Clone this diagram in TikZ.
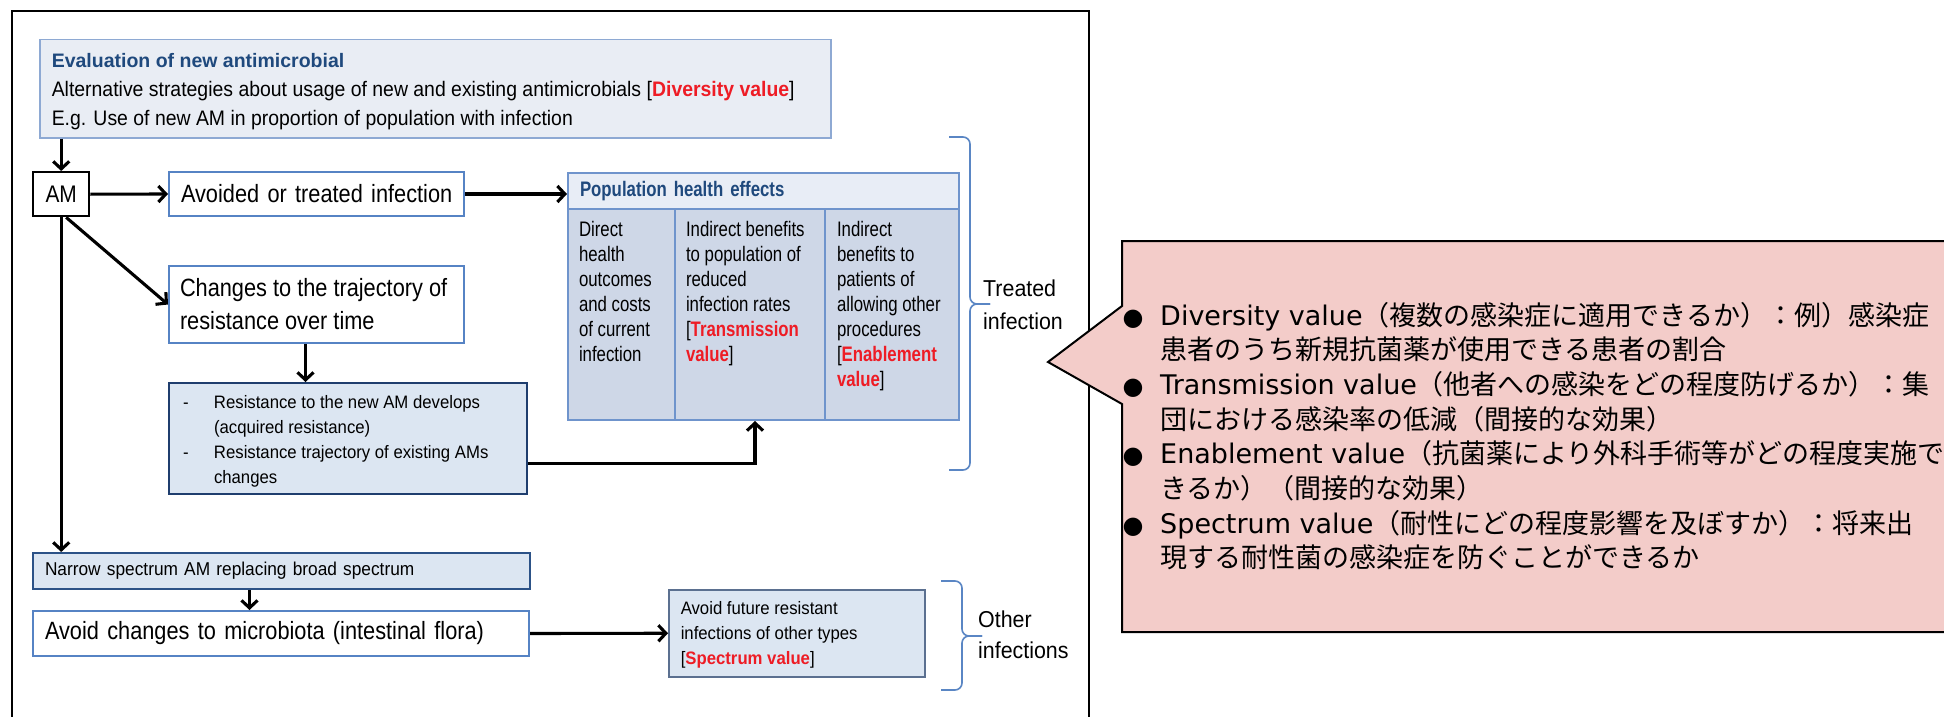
\documentclass[tikz,border=0pt]{standalone}
\usepackage{fontspec}
\setmainfont{Liberation Sans}
\newfontfamily\fA{Liberation Sans}[FakeStretch=0.87]
\newfontfamily\fB{Liberation Sans}[FakeStretch=0.80]
\newfontfamily\fC{Liberation Sans}[FakeStretch=0.93]
\newfontfamily\fD{Liberation Sans}[FakeStretch=0.925]
\newfontfamily\dv{DejaVu Sans}
\newfontfamily\jp{Noto Sans CJK JP}
\usetikzlibrary{arrows.meta}
\definecolor{evalfill}{HTML}{E9EDF4}
\definecolor{evalborder}{HTML}{8EA9D3}
\definecolor{boxblue}{HTML}{5683C4}
\definecolor{tblborder}{HTML}{6F94CC}
\definecolor{headfill}{HTML}{E8EDF6}
\definecolor{colfill}{HTML}{CED7E7}
\definecolor{resfill}{HTML}{DCE6F2}
\definecolor{resborder}{HTML}{1F3E6E}
\definecolor{narrowborder}{HTML}{2C5287}
\definecolor{futborder}{HTML}{5B7090}
\definecolor{calloutfill}{HTML}{F3CCC9}
\definecolor{hdblue}{HTML}{1F497D}
\definecolor{valred}{HTML}{EE1C25}
\definecolor{braceblue}{HTML}{5A86C4}
\newcommand\tbx[4]{\parbox[c][#1][t]{#2}{\raggedright\rule{0pt}{#3}#4}}
\newcommand\val[1]{{\bfseries\color{valred}#1}}
\tikzset{
  evalbox/.style={draw=evalborder, fill=evalfill, line width=1.5pt, anchor=north west,
    inner xsep=12pt, inner ysep=0pt, font=\fD\fontsize{21}{29}\selectfont},
  amnode/.style={draw=black, fill=white, line width=2.4pt, anchor=north west,
    minimum width=56pt, minimum height=44pt, inner sep=0pt, font=\fA\fontsize{24}{28}\selectfont},
  wbox/.style={draw=boxblue, fill=white, line width=2pt, anchor=north west,
    inner xsep=12pt, inner ysep=0pt, align=left, font=\fA\fontsize{25}{33}\selectfont},
  bbox/.style={fill=resfill, line width=2pt, anchor=north west,
    inner xsep=12pt, inner ysep=0pt, align=left, font=\fC\fontsize{18}{25}\selectfont},
  phead/.style={draw=tblborder, fill=headfill, line width=2pt, anchor=north west,
    minimum height=36pt, text width=367pt, inner xsep=12pt, inner ysep=0pt, align=left,
    text=hdblue, font=\fB\bfseries\fontsize{21}{25}\selectfont},
  pcol/.style={draw=tblborder, fill=colfill, line width=2pt, anchor=north west,
    inner ysep=0pt, font=\fB\fontsize{21}{25}\selectfont},
  lbl/.style={anchor=north west, inner sep=0pt, font=\fC\fontsize{23}{33}\selectfont},
  arr/.style={draw=black, line width=3.1pt, -{Straight Barb[length=7.5pt,width=16pt]}},
  brace/.style={draw=braceblue, line width=1.6pt, rounded corners=7pt},
  cl/.style={anchor=base west, inner sep=0pt, font=\fontsize{27}{34.7}\selectfont},
  bul/.style={anchor=base, inner sep=0pt, font=\dv\fontsize{24}{28}\selectfont}
}
\begin{document}
\begin{tikzpicture}[x=1pt,y=-1pt]
\useasboundingbox (0,0) rectangle (1944,717);
\clip (0,0) rectangle (1944,717);
\fill[white] (0,0) rectangle (1944,717);
% outer frame
\draw[line width=2pt] (12,740) -- (12,11) -- (1089,11) -- (1089,740);

% boxes
\node[evalbox] (eval) at (39,39) {\tbx{98pt}{767pt}{28pt}{{\rmfamily\fontsize{19.5}{29}\selectfont\bfseries\color{hdblue}Evaluation of new antimicrobial}\\\mbox{Alternative strategies about usage of new and existing antimicrobials [\val{Diversity value}]}\\\mbox{E.g. Use of new AM in proportion of population with infection}}};
\node[amnode] (am) at (32,171) {AM};
\node[wbox, minimum height=44pt, text width=271pt] (avoided) at (168,171) {\mbox{Avoided or treated infection}};
\node[wbox, inner xsep=11pt] (changes) at (168,265) {\tbx{77pt}{273pt}{30pt}{\mbox{Changes to the trajectory of}\\resistance over time}};
\node[bbox, draw=resborder, inner xsep=14pt] (res) at (168,382) {\tbx{111pt}{330pt}{25pt}{\makebox[31pt][l]{-}Resistance to the new AM develops\\\hspace*{31pt}(acquired resistance)\\\makebox[31pt][l]{-}Resistance trajectory of existing AMs\\\hspace*{31pt}changes}};
\node[bbox, draw=narrowborder, minimum height=36pt, text width=473pt, font=\fC\fontsize{18.6}{25}\selectfont] (narrow) at (32,552) {\mbox{Narrow spectrum AM replacing broad spectrum}};
\node[wbox, minimum height=45pt, text width=472pt] (micro) at (32,610) {\mbox{Avoid changes to microbiota (intestinal flora)}};

% population health table
\node[phead] (pophead) at (567,172) {Population health effects};
\node[pcol, inner xsep=11pt] (col1) at (567,208) {\tbx{211pt}{85pt}{27pt}{Direct\\health\\outcomes\\and costs\\of current\\infection}};
\node[pcol, inner xsep=11pt] (col2) at (674,208) {\tbx{211pt}{128pt}{27pt}{Indirect benefits\\to population of\\reduced\\infection rates\\{}[\val{Transmission}\\\val{value}]}};
\node[pcol, inner xsep=12pt] (col3) at (824,208) {\tbx{211pt}{110pt}{27pt}{Indirect\\benefits to\\patients of\\allowing other\\procedures\\{}[\val{Enablement}\\\val{value}]}};

\node[bbox, draw=futborder, line width=1.5pt] (fut) at (668,589) {\tbx{87pt}{232pt}{25pt}{Avoid future resistant\\infections of other types\\{}[\val{Spectrum value}]}};

% braces and labels
\draw[brace] (949,137) -- (970,137) -- (970,304) -- (990,304);
\draw[brace] (990,304) -- (970,304) -- (970,470) -- (949,470);
\node[lbl] (treated) at (983,271) {\tbx{66pt}{110pt}{25pt}{Treated\\infection}};
\draw[brace] (941,581) -- (962,581) -- (962,636) -- (982,636);
\draw[brace] (982,636) -- (962,636) -- (962,690) -- (941,690);
\node[lbl, font=\fC\fontsize{23}{31}\selectfont] (other) at (978,602) {\tbx{62pt}{110pt}{25pt}{Other\\infections}};

% connectors
\draw[arr] (eval.south -| am.north) -- (am.north);
\draw[arr] (am.east) -- (avoided.west);
\draw[arr] (avoided.east) -- (avoided.east -| pophead.west);
\draw[arr] ([xshift=5pt]am.south) -- (changes.west);
\draw[arr] (am.south) -- (am.south |- narrow.north);
\draw[arr] ([xshift=-11pt]changes.south) -- ([xshift=-11pt]changes.south |- res.north);
\draw[arr] ([yshift=-25pt]res.east) -| ([xshift=5pt]col2.south);
\draw[arr] ([xshift=-32pt]narrow.south) -- ([xshift=-32pt]narrow.south |- micro.north);
\draw[arr] (micro.east) -- (fut.west);

% callout
\draw[fill=calloutfill, line width=2pt] (1122,306) -- (1122,241) -- (1970,241) -- (1970,632) -- (1122,632) -- (1122,404) -- (1048,362) -- cycle;
\node[bul] (b1) at (1133,325) {●};
\node[cl] (t1) at (1160,325) {{\dv Diversity value}{\jp （複数の感染症に適用できるか）：例）感染症}};
\node[cl] (t2) at (1160,359.7) {\jp 患者のうち新規抗菌薬が使用できる患者の割合};
\node[bul] (b2) at (1133,394.4) {●};
\node[cl] (t3) at (1160,394.4) {{\dv Transmission value}{\jp （他者への感染をどの程度防げるか）：集}};
\node[cl] (t4) at (1160,429.1) {\jp 団における感染率の低減（間接的な効果）};
\node[bul] (b3) at (1133,463.8) {●};
\node[cl] (t5) at (1160,463.8) {{\dv Enablement value}{\jp （抗菌薬により外科手術等がどの程度実施で}};
\node[cl] (t6) at (1160,498.5) {\jp きるか）（間接的な効果）};
\node[bul] (b4) at (1133,533.2) {●};
\node[cl] (t7) at (1160,533.2) {{\dv Spectrum value}{\jp （耐性にどの程度影響を及ぼすか）：将来出}};
\node[cl] (t8) at (1160,567.9) {\jp 現する耐性菌の感染症を防ぐことができるか};
\end{tikzpicture}
\end{document}
